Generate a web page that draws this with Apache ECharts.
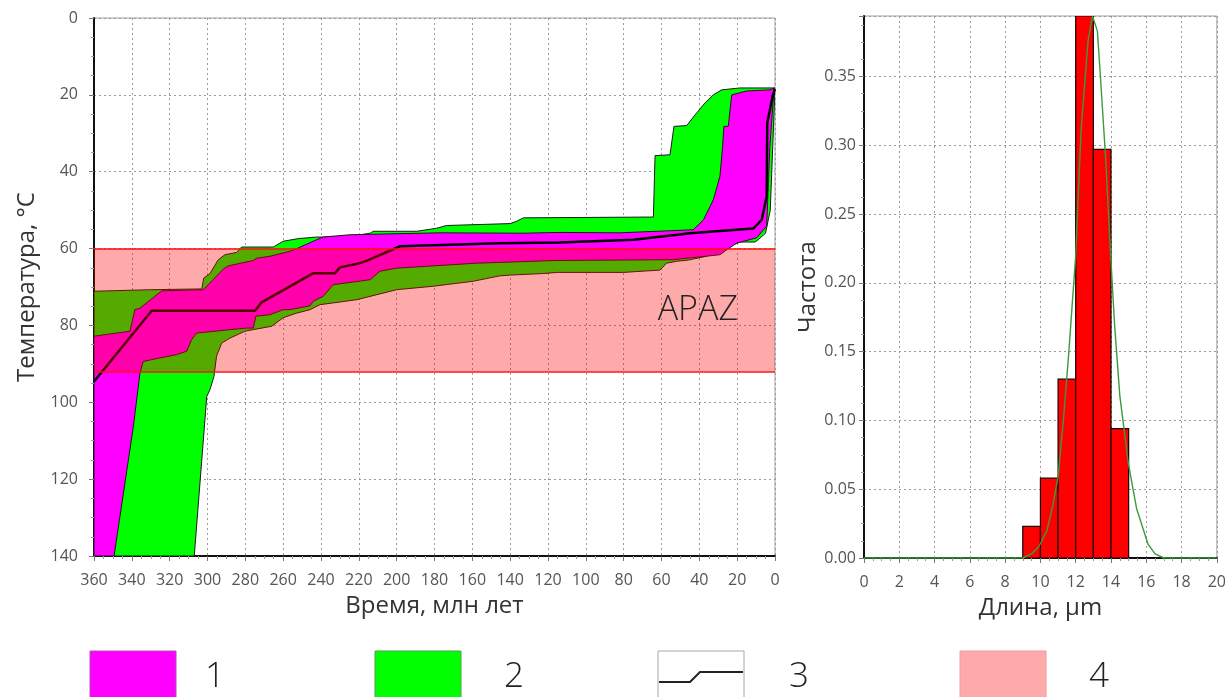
<!DOCTYPE html>
<html>
<head>
<meta charset="utf-8">
<script src="https://cdn.jsdelivr.net/npm/echarts@6/dist/echarts.min.js"></script>
<style>
  html, body { margin: 0; padding: 0; background: #fff; }
  #chart { width: 1229px; height: 697px; }
</style>
</head>
<body>
<div id="chart"></div>
<script>
// Thermal history: time (Ma) vs temperature (°C)
const timeTicks = { min: 0, max: 360, step: 20 };
const tempTicks = { min: 0, max: 140, step: 20 };

// Acceptable-fit envelope (2): cool edge, then hot edge
const acceptableUpper = [[360,71.1],[330,70.7],[303,70.5],[302,67.7],[298.7,66.5],[294.3,62.9],[290.8,61.6],[284.6,61.0],[282,59.6],[265.2,59.6],[260,58.1],[252,57.4],[242.3,57.0],[226.4,57.0],[214,56.0],[212.4,55.5],[189.4,55.5],[178.8,54.7],[173.6,54.0],[140,53.5],[136.6,52.9],[133,52.0],[66.5,51.8],[64.3,51.8],[63.4,35.8],[55.5,35.6],[53.4,28.2],[46.7,28.0],[41.4,24.7],[37,22.1],[32.6,20.0],[28.2,18.7],[18.5,18.2],[0,18.2]];
const acceptableLower = [[0,18.2],[2.5,50],[5,56],[8.9,57.7],[10.6,58.3],[18.5,58.3],[22,59],[28.2,61.2],[32.6,61.4],[36.2,62],[45.8,63],[52,63.3],[57.3,63.8],[60.8,65.6],[80,66.2],[115,66.2],[122.5,66.5],[140,66.9],[145.4,67.1],[159.5,68.5],[180.6,69.8],[200,70.7],[221,73.3],[240.5,74.6],[245.8,75.9],[252.9,76.8],[260,78],[266,80.2],[275.8,81.1],[280.2,81.5],[288.1,83.3],[292.5,84.6],[295.2,88],[296.6,93.3],[298.7,96.7],[300.4,98.5],[307,140],[360,140]];

// Good-fit envelope (1): cool edge, then hot edge
const goodUpper = [[360,82.8],[341,81.5],[338.4,75.9],[335.7,75.5],[324.2,71.0],[302.2,70.7],[291.6,65.3],[289,64.5],[275.8,63.1],[274,62.5],[267,62],[256.4,60.7],[252.8,60],[242.3,57.7],[238.8,57.0],[224.7,56.4],[177.1,55.9],[133,56.0],[113.7,55.8],[82,55.9],[43.2,55.1],[37.8,52.5],[32.6,47.3],[29.1,41.2],[27.7,33.4],[27,28.2],[24.7,28.2],[22.9,20.0],[15,19.0],[2.7,18.7],[0.5,18.2]];
const goodLower = [[0.5,18.2],[2.7,33.4],[4.4,54.2],[9.7,57.2],[20.3,58.6],[25.5,60.3],[29.1,61.6],[53.7,62.9],[115.4,63.1],[157.7,63.8],[200,65.1],[208.8,65.9],[214,68.1],[233.5,69.4],[238.8,72.4],[244,73.7],[245.8,74.9],[256.4,75.9],[260,75.9],[267,77.2],[274.4,77.6],[275.8,80.7],[279.3,80.7],[288.1,81.1],[305.7,82],[308.4,83.7],[311,86.7],[316.3,87.6],[329.5,88.9],[334,89.4],[335.7,92.4],[339.2,106.3],[349.4,140],[360,140]];

// Best-fit path (3)
const bestFit = [[360,94.6],[329.5,76.2],[274.9,76.2],[271.4,74.0],[244,66.4],[232.6,66.4],[230,64.9],[219.4,63.8],[216,63.2],[198.2,59.4],[145.4,58.6],[113.7,58.4],[74.8,57.7],[44.9,56.0],[11.5,54.8],[7.0,52.5],[4.4,46.4],[4.1,27.3],[2.7,23.9],[1.3,20.4],[0,18.5]];

// Apatite partial annealing zone (4), °C
const apaz = [60, 92];

// Track length histogram: [bin start, bin end, frequency]
const lengthBins = [[9,10,0.023],[10,11,0.058],[11,12,0.130],[12,13,0.394],[13,14,0.297],[14,15,0.094],[15,16,0],[16,17,0]];
// Modelled length distribution
const lengthModel = [[0,0],[9,0],[9.5,0.003],[9.9,0.008],[10.37,0.02],[10.7,0.038],[11,0.059],[11.3,0.1],[11.6,0.148],[12.0,0.22],[12.3,0.31],[12.7,0.376],[12.95,0.394],[13.23,0.383],[13.4,0.35],[13.7,0.29],[13.96,0.225],[14.2,0.17],[14.5,0.118],[14.98,0.069],[15.45,0.036],[16.1,0.010],[16.5,0.003],[17.0,0],[20,0]];
const lengthTicks = { min: 0, max: 20, step: 2 };
const freqTicks = { min: 0, max: 0.394, step: 0.05 };

const legendLabels = ['1', '2', '3', '4'];

const FONT = '"Open Sans", "DejaVu Sans", sans-serif';
const tickLabel = { color: '#555', fontSize: 16, fontFamily: FONT };
const nameStyle = { color: '#333', fontSize: 24, fontFamily: FONT };
const gridDash = { show: true, lineStyle: { color: '#9a9a9a', type: [2, 3], width: 1 } };

function envelope(name, upper, lower, fill, z) {
  const pts = upper.concat(lower);
  return {
    type: 'custom', name, xAxisIndex: 0, yAxisIndex: 0, z, clip: true, silent: true,
    data: pts,
    renderItem(params, api) {
      if (params.dataIndex !== 0) return null;
      return {
        type: 'polygon',
        shape: { points: pts.map(p => api.coord(p)) },
        style: { fill, stroke: '#1a1a1a', lineWidth: 1 }
      };
    }
  };
}

const chart = echarts.init(document.getElementById('chart'), null, { renderer: 'canvas' });

const option = {
  animation: false,
  grid: [
    { left: 94, top: 18, width: 681, height: 538, show: true, borderColor: '#a0a0a0', borderWidth: 1 },
    { left: 864, top: 16, width: 354, height: 542, show: true, borderColor: '#a0a0a0', borderWidth: 1 }
  ],
  xAxis: [
    {
      gridIndex: 0, type: 'value', inverse: true,
      min: timeTicks.min, max: timeTicks.max, interval: timeTicks.step,
      name: 'Время, млн лет', nameLocation: 'middle', nameGap: 38, nameTextStyle: nameStyle,
      axisLine: { show: true, onZero: false, lineStyle: { color: '#111', width: 2 } },
      axisTick: { show: true, length: 5, lineStyle: { color: '#777' } },
      minorTick: { show: true, splitNumber: 4, length: 3, lineStyle: { color: '#999' } },
      axisLabel: Object.assign({ margin: 16 }, tickLabel),
      splitLine: gridDash
    },
    {
      gridIndex: 1, type: 'value',
      min: lengthTicks.min, max: lengthTicks.max, interval: lengthTicks.step,
      name: 'Длина, µm', nameLocation: 'middle', nameGap: 38, nameTextStyle: nameStyle,
      axisLine: { show: true, onZero: false, lineStyle: { color: '#111', width: 2 } },
      axisTick: { show: true, length: 5, lineStyle: { color: '#777' } },
      minorTick: { show: true, splitNumber: 4, length: 3, lineStyle: { color: '#999' } },
      axisLabel: Object.assign({ margin: 16 }, tickLabel),
      splitLine: gridDash
    }
  ],
  yAxis: [
    {
      gridIndex: 0, type: 'value', inverse: true,
      min: tempTicks.min, max: tempTicks.max, interval: tempTicks.step,
      name: 'Температура, °C', nameLocation: 'middle', nameGap: 48, nameTextStyle: nameStyle,
      axisLine: { show: true, onZero: false, lineStyle: { color: '#111', width: 2 } },
      axisTick: { show: true, length: 5, lineStyle: { color: '#777' } },
      minorTick: { show: true, splitNumber: 4, length: 3, lineStyle: { color: '#999' } },
      axisLabel: Object.assign({ margin: 16 }, tickLabel),
      splitLine: gridDash
    },
    {
      gridIndex: 1, type: 'value',
      min: freqTicks.min, max: freqTicks.max, interval: freqTicks.step,
      name: 'Частота', nameLocation: 'middle', nameGap: 40, nameTextStyle: nameStyle,
      axisLine: { show: true, onZero: false, lineStyle: { color: '#111', width: 2 } },
      axisTick: { show: true, length: 5, lineStyle: { color: '#777' } },
      minorTick: { show: true, splitNumber: 4, length: 3, lineStyle: { color: '#999' } },
      axisLabel: Object.assign({ margin: 8, showMaxLabel: false, formatter: v => v.toFixed(2) }, tickLabel),
      splitLine: gridDash
    }
  ],
  series: [
    envelope('2', acceptableUpper, acceptableLower, '#00ff00', 2),
    envelope('1', goodUpper, goodLower, '#ff00ff', 3),
    {
      type: 'line', name: '3', xAxisIndex: 0, yAxisIndex: 0, z: 4,
      data: bestFit, symbol: 'none', silent: true,
      lineStyle: { color: '#000', width: 2.5 },
      markArea: {
        z: 10, silent: true,
        itemStyle: { color: 'rgba(255,0,0,0.333)' },
        label: { show: true, position: 'insideRight', distance: 37, color: '#222', fontSize: 34, fontWeight: 300, fontFamily: FONT },
        data: [[{ name: 'APAZ', xAxis: timeTicks.max, yAxis: apaz[0] }, { xAxis: timeTicks.min, yAxis: apaz[1] }]]
      },
      markLine: {
        z: 11, silent: true, symbol: 'none', label: { show: false },
        lineStyle: { color: '#ff1010', width: 1.5, type: 'solid' },
        data: apaz.map(v => ({ yAxis: v }))
      }
    },
    {
      type: 'custom', name: 'hist', xAxisIndex: 1, yAxisIndex: 1, z: 2, clip: true,
      data: lengthBins,
      encode: { x: [0, 1], y: 2 },
      renderItem(params, api) {
        const a = api.coord([api.value(0), 0]);
        const b = api.coord([api.value(1), api.value(2)]);
        return {
          type: 'rect',
          shape: { x: a[0], y: b[1], width: b[0] - a[0], height: a[1] - b[1] },
          style: { fill: '#ff0000', stroke: '#1a0000', lineWidth: 1.2 }
        };
      }
    },
    {
      type: 'line', name: 'model', xAxisIndex: 1, yAxisIndex: 1, z: 5,
      data: lengthModel, symbol: 'none', silent: true,
      lineStyle: { color: '#3c9a3c', width: 1.4 }
    }
  ],
  graphic: [
    { type: 'rect', shape: { x: 90, y: 651, width: 86, height: 60 }, style: { fill: '#ff00ff', stroke: '#b050b0', lineWidth: 1 } },
    { type: 'text', x: 215, y: 677, style: { text: legendLabels[0], fontSize: 35, fontWeight: 300, fontFamily: FONT, fill: '#222', align: 'center', verticalAlign: 'middle' } },
    { type: 'rect', shape: { x: 375, y: 651, width: 86, height: 60 }, style: { fill: '#00ff00', stroke: '#50a050', lineWidth: 1 } },
    { type: 'text', x: 514, y: 677, style: { text: legendLabels[1], fontSize: 35, fontWeight: 300, fontFamily: FONT, fill: '#222', align: 'center', verticalAlign: 'middle' } },
    { type: 'rect', shape: { x: 658, y: 651, width: 86, height: 60 }, style: { fill: '#fff', stroke: '#a8a8a8', lineWidth: 1 } },
    { type: 'polyline', shape: { points: [[659, 682], [690, 682], [700, 672], [743, 672]] }, style: { stroke: '#222', lineWidth: 2, fill: null } },
    { type: 'text', x: 799, y: 677, style: { text: legendLabels[2], fontSize: 35, fontWeight: 300, fontFamily: FONT, fill: '#222', align: 'center', verticalAlign: 'middle' } },
    { type: 'rect', shape: { x: 960, y: 651, width: 86, height: 60 }, style: { fill: '#ffaaaa', stroke: '#f49a9a', lineWidth: 1 } },
    { type: 'text', x: 1099, y: 677, style: { text: legendLabels[3], fontSize: 35, fontWeight: 300, fontFamily: FONT, fill: '#222', align: 'center', verticalAlign: 'middle' } }
  ]
};

chart.setOption(option);
</script>
</body>
</html>
